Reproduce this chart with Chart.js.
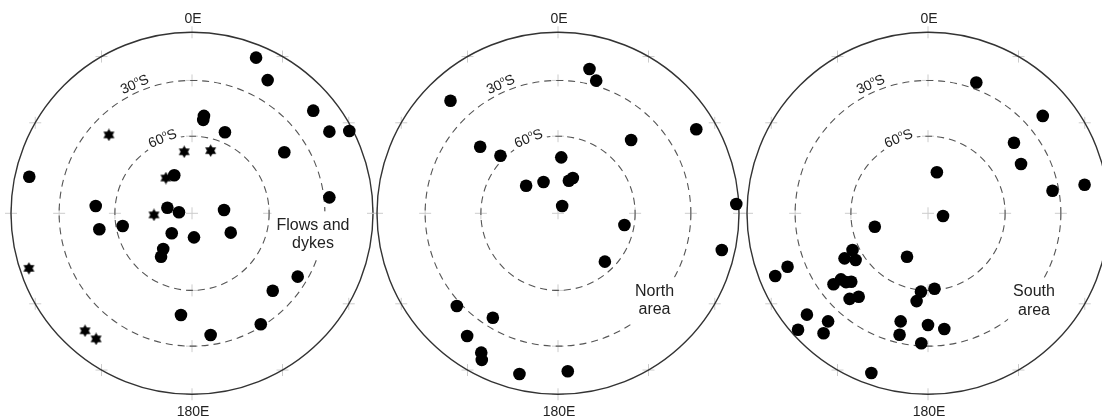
<!DOCTYPE html>
<html>
<head>
<meta charset="utf-8">
<title>Pole positions</title>
<script src="https://cdn.jsdelivr.net/npm/chart.js@4/dist/chart.umd.min.js"></script>
<style>
    html, body { margin: 0; padding: 0; background: #fff; overflow: hidden; width: 1102px; height: 419px; }
    .panel { position: absolute; top: 0; }
</style>
</head>
<body>
<canvas id="p1" class="panel" width="380" height="419" style="left:2px"></canvas>
<canvas id="p2" class="panel" width="380" height="419" style="left:368px"></canvas>
<canvas id="p3" class="panel" width="380" height="419" style="left:738px"></canvas>
<script>
// Pole positions, plotted in units of the outer circle radius (x east-ish, y up = 0E).
var flowsDots = [
    [0.354, 0.860], [0.418, 0.736], [0.670, 0.567], [0.759, 0.451], [0.869, 0.455],
    [0.066, 0.538], [0.062, 0.516], [0.182, 0.448], [0.510, 0.337], [-0.899, 0.202],
    [0.759, 0.088], [-0.098, 0.210], [-0.532, 0.040], [-0.136, 0.031], [-0.072, 0.006],
    [0.177, 0.018], [-0.512, -0.088], [-0.383, -0.070], [-0.112, -0.110], [0.011, -0.133],
    [0.214, -0.107], [-0.159, -0.197], [-0.171, -0.240], [0.584, -0.350], [0.446, -0.428],
    [-0.061, -0.562], [0.380, -0.613], [0.103, -0.672]
];
var flowsStars = [
    [-0.459, 0.433], [-0.043, 0.340], [0.103, 0.346], [-0.144, 0.195],
    [-0.210, -0.009], [-0.901, -0.304], [-0.591, -0.649], [-0.530, -0.694]
];
var northDots = [
    [0.174, 0.797], [0.211, 0.733], [-0.594, 0.622], [-0.430, 0.368], [-0.318, 0.318],
    [0.018, 0.309], [-0.176, 0.152], [-0.080, 0.173], [0.060, 0.180], [0.082, 0.195],
    [0.023, 0.040], [0.404, 0.405], [0.764, 0.464], [0.985, 0.051], [0.367, -0.065],
    [0.905, -0.203], [0.259, -0.267], [-0.559, -0.512], [-0.360, -0.577], [-0.502, -0.678],
    [-0.424, -0.770], [-0.421, -0.810], [-0.213, -0.888], [0.054, -0.873]
];
var southDots = [
    [0.267, 0.723], [0.634, 0.538], [0.475, 0.390], [0.514, 0.272], [0.049, 0.227],
    [0.688, 0.125], [0.865, 0.158], [0.083, -0.015], [-0.294, -0.074], [-0.116, -0.240],
    [-0.417, -0.203], [-0.461, -0.249], [-0.400, -0.258], [-0.776, -0.295], [-0.844, -0.346],
    [-0.481, -0.365], [-0.522, -0.392], [-0.453, -0.380], [-0.424, -0.378], [-0.383, -0.461],
    [-0.433, -0.473], [-0.039, -0.433], [0.036, -0.417], [-0.063, -0.485], [-0.669, -0.560],
    [-0.552, -0.597], [-0.718, -0.643], [-0.577, -0.663], [-0.151, -0.597], [0.000, -0.617],
    [0.090, -0.639], [-0.157, -0.671], [-0.037, -0.718], [-0.313, -0.882]
];

// Latitude rings (radius as fraction of the outer circle) and their labels.
var ringRadii = [0.734, 0.426];
var ringLabels = ['30', '60'];
var topLabel = '0E';
var bottomLabel = '180E';

var FONT = '"Liberation Sans", Arial, Helvetica, sans-serif';
var UNIT = 181;          // px per outer radius
var HALF_W = 190;        // half canvas width, px
var CENTER_Y = 213.3;    // px from top
var HEIGHT = 419;

var makeStar = function (size) {
    var c = document.createElement('canvas');
    c.width = size;
    c.height = size;
    var g = c.getContext('2d');
    var r = size / 2;
    g.fillStyle = '#000';
    [-90, 90].forEach(function (start) {
        g.beginPath();
        for (var k = 0; k < 3; k++) {
            var a = (start + k * 120) * Math.PI / 180;
            var px = r + r * 0.98 * Math.cos(a);
            var py = r + r * 0.98 * Math.sin(a);
            if (k === 0) { g.moveTo(px, py); } else { g.lineTo(px, py); }
        }
        g.closePath();
        g.fill();
    });
    return c;
};
var starImg = makeStar(13);

var toPoints = function (pairs) {
    return pairs.map(function (p) { return { x: p[0], y: p[1] }; });
};

// Draws one ring label like "30ºS" rotated along the ring.
var drawRingLabel = function (ctx, x, y, angle, num) {
    ctx.save();
    ctx.translate(x, y);
    ctx.rotate(angle);
    ctx.font = '14px ' + FONT;
    var wNum = ctx.measureText(num).width;
    var wS = ctx.measureText('S').width;
    ctx.font = '8px ' + FONT;
    var wO = ctx.measureText('o').width;
    var total = wNum + wO + wS;
    ctx.fillStyle = '#fff';
    ctx.fillRect(-total / 2 - 3, -8, total + 6, 15);
    ctx.fillStyle = '#222';
    ctx.textBaseline = 'alphabetic';
    ctx.textAlign = 'left';
    var x0 = -total / 2;
    ctx.font = '14px ' + FONT;
    ctx.fillText(num, x0, 5);
    ctx.font = '8px ' + FONT;
    ctx.fillText('o', x0 + wNum, -1);
    ctx.font = '14px ' + FONT;
    ctx.fillText('S', x0 + wNum + wO, 5);
    ctx.restore();
};

var polarFrame = {
    id: 'polarFrame',
    beforeDatasetsDraw: function (chart, args, opts) {
        var ctx = chart.ctx;
        var xs = chart.scales.x;
        var ys = chart.scales.y;
        var cx = xs.getPixelForValue(0);
        var cy = ys.getPixelForValue(0);
        var R = xs.getPixelForValue(1) - cx;
        var i, a;

        ctx.save();

        // Faint grid crosses.
        var crosses = [[0, 0]];
        for (i = 0; i < 12; i++) {
            a = i * Math.PI / 6;
            crosses.push([R * Math.sin(a), -R * Math.cos(a)]);
        }
        ringRadii.forEach(function (rr) {
            for (var k = 0; k < 4; k++) {
                var b = k * Math.PI / 2;
                crosses.push([rr * R * Math.sin(b), -rr * R * Math.cos(b)]);
            }
        });
        ctx.strokeStyle = '#cccccc';
        ctx.lineWidth = 1;
        crosses.forEach(function (c) {
            ctx.beginPath();
            ctx.moveTo(cx + c[0] - 6, cy + c[1]);
            ctx.lineTo(cx + c[0] + 6, cy + c[1]);
            ctx.moveTo(cx + c[0], cy + c[1] - 6);
            ctx.lineTo(cx + c[0], cy + c[1] + 6);
            ctx.stroke();
        });

        // Dashed latitude rings.
        ctx.strokeStyle = '#555';
        ctx.lineWidth = 1.1;
        ctx.setLineDash([7, 5]);
        ringRadii.forEach(function (rr) {
            ctx.beginPath();
            ctx.arc(cx, cy, rr * R, 0, Math.PI * 2);
            ctx.stroke();
        });
        ctx.setLineDash([]);

        // Outer circle.
        ctx.strokeStyle = '#333';
        ctx.lineWidth = 1.4;
        ctx.beginPath();
        ctx.arc(cx, cy, R, 0, Math.PI * 2);
        ctx.stroke();

        // Ring labels.
        var labAz = [-24, -21.5];
        var labR = [0.783, 0.448];
        ringLabels.forEach(function (txt, k) {
            var az = labAz[k] * Math.PI / 180;
            var rp = labR[k] * R;
            drawRingLabel(ctx, cx + rp * Math.sin(az), cy - rp * Math.cos(az), az, txt);
        });

        // Panel label with white backing.
        var lines = opts.lines;
        ctx.font = '16px ' + FONT;
        ctx.textAlign = 'center';
        ctx.textBaseline = 'middle';
        var maxW = 0;
        lines.forEach(function (l) { maxW = Math.max(maxW, ctx.measureText(l).width); });
        var lx = cx + opts.dx;
        var ly = cy + opts.dy;
        ctx.fillStyle = '#fff';
        ctx.fillRect(lx - maxW / 2 - 5, ly - 14, maxW + 10, lines.length * 18.5 + 10);
        ctx.fillStyle = '#222';
        lines.forEach(function (l, k) {
            ctx.fillText(l, lx, ly + k * 18.5);
        });

        // 0E / 180E labels.
        ctx.font = '14px ' + FONT;
        ctx.fillText(topLabel, cx + 1, cy - R - 13.5);
        ctx.fillText(bottomLabel, cx + 1, cy + R + 18);

        ctx.restore();
    }
};

var buildPanel = function (id, dots, stars, label) {
    var sets = [{
        data: toPoints(dots),
        pointStyle: 'circle',
        pointRadius: 6.3,
        pointBackgroundColor: '#000',
        pointBorderWidth: 0,
        showLine: false,
        clip: false
    }];
    if (stars) {
        sets.push({
            data: toPoints(stars),
            pointStyle: starImg,
            pointRadius: 6,
            showLine: false,
            clip: false
        });
    }
    new Chart(document.getElementById(id), {
        type: 'scatter',
        data: { datasets: sets },
        options: {
            responsive: false,
            animation: false,
            events: [],
            layout: { padding: 0, autoPadding: false },
            scales: {
                x: { type: 'linear', display: false, min: -HALF_W / UNIT, max: HALF_W / UNIT },
                y: { type: 'linear', display: false, min: -(HEIGHT - CENTER_Y) / UNIT, max: CENTER_Y / UNIT }
            },
            plugins: {
                legend: { display: false },
                tooltip: { enabled: false },
                polarFrame: label
            }
        },
        plugins: [polarFrame]
    });
};

buildPanel('p1', flowsDots, flowsStars, { lines: ['Flows and', 'dykes'], dx: 121, dy: 12 });
buildPanel('p2', northDots, null, { lines: ['North', 'area'], dx: 96.5, dy: 78 });
buildPanel('p3', southDots, null, { lines: ['South', 'area'], dx: 106, dy: 78.5 });
</script>
</body>
</html>
